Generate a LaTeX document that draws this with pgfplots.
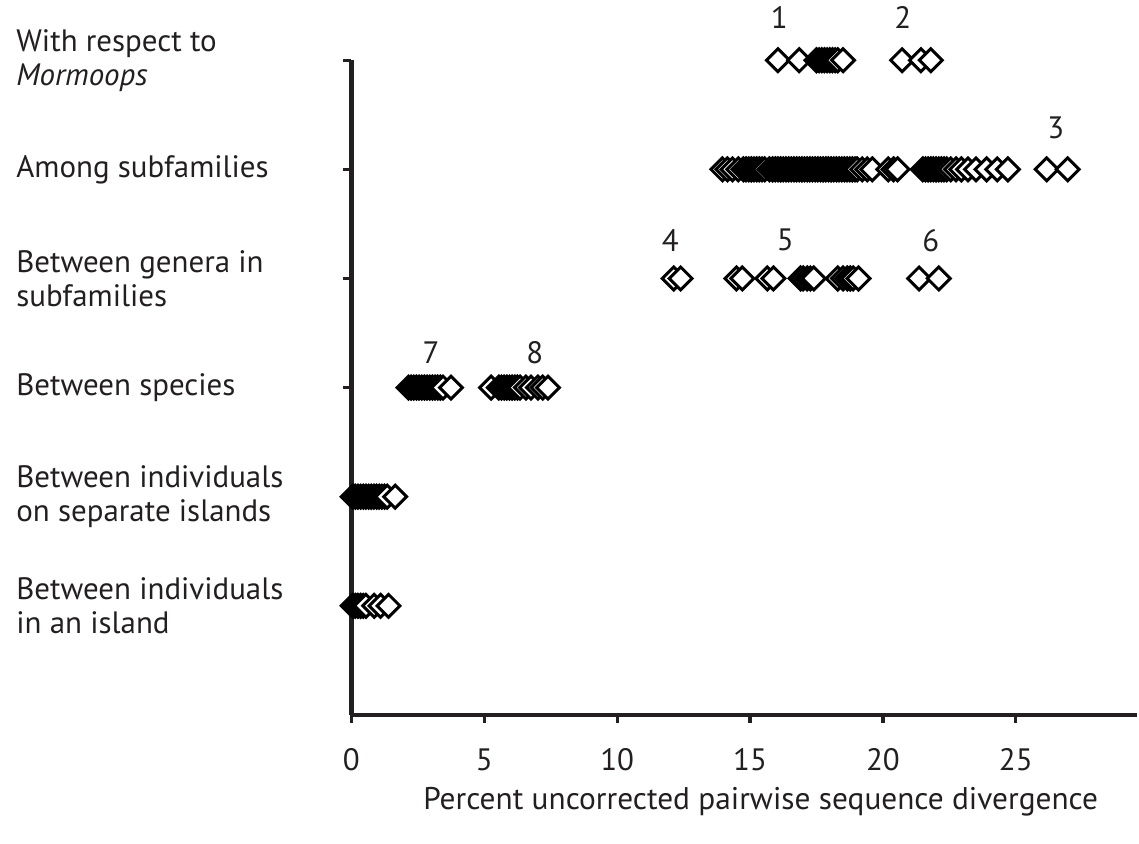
\documentclass[border=0pt]{standalone}
\usepackage{fontspec}
\setmainfont{PT Sans}
\usepackage{pgfplots}
\pgfplotsset{compat=1.18}
\definecolor{ink}{HTML}{231F20}
\pgfplotsset{dia/.style={only marks, mark=square*, mark size=4.05pt,
    mark options={rotate=45, fill=white, draw=black, line width=1.5pt, line join=miter}}}
\begin{document}
\begin{tikzpicture}
\path (-176pt,-64.5pt) rectangle (393.5pt,358pt);
\begin{axis}[
  at={(0pt,0pt)}, anchor=south west,
  scale only axis, width=393.5pt, height=328pt,
  xmin=0, xmax=29.55, ymin=0, ymax=6,
  axis x line=bottom, axis y line=left,
  axis line style={line width=2.2pt, -, ink},
  xtick={0,5,10,15,20,25},
  ytick={1,2,3,4,5,6},
  yticklabels={{Between individuals\\in an island},{Between individuals\\on separate islands},{Between species},{Between genera in\\subfamilies},{Among subfamilies},{With respect to\\\textit{Mormoops}}},
  tick align=outside, major tick length=4pt,
  every tick/.style={ink, line width=1.6pt},
  /pgf/number format/assume math mode=true,
  tick label style={font=\fontsize{15.5}{17}\selectfont, text=ink},
  yticklabel style={align=left, anchor=west, inner sep=0pt, xshift=-164pt},
  xticklabel style={anchor=center, inner sep=0pt, yshift=-18.5pt},
  xlabel={Percent uncorrected pairwise sequence divergence},
  xlabel style={font=\fontsize{15.7}{17}\selectfont, text=ink, at={(axis description cs:0.5,0)}, anchor=center, xshift=8.3pt, yshift=-43.5pt},
  clip=false,
]
% With respect to Mormoops
\addplot[dia] coordinates {(16.05,6) (16.85,6) (17.5,6) (17.6,6) (17.7,6) (17.8,6) (17.9,6) (18.0,6) (18.1,6) (18.2,6) (18.3,6) (18.5,6) (20.72,6) (21.43,6) (21.8,6)};
% Among subfamilies
\addplot[dia] coordinates {(13.96,5) (14.15,5) (14.34,5) (14.56,5)
 (14.75,5) (14.85,5) (14.95,5) (15.05,5) (15.15,5) (15.25,5) (15.35,5) (15.45,5) (15.55,5)
 (15.73,5)
 (15.85,5) (15.95,5) (16.05,5) (16.15,5) (16.25,5) (16.35,5) (16.45,5) (16.55,5) (16.65,5) (16.75,5)
 (16.85,5) (16.95,5) (17.05,5) (17.15,5) (17.25,5) (17.35,5) (17.45,5) (17.55,5) (17.65,5) (17.75,5)
 (17.85,5) (17.95,5) (18.05,5) (18.15,5) (18.25,5) (18.35,5) (18.45,5) (18.55,5) (18.65,5) (18.75,5)
 (18.85,5) (18.95,5)
 (19.03,5) (19.22,5) (19.41,5) (19.6,5) (20.2,5) (20.4,5) (20.55,5)
 (21.5,5) (21.6,5) (21.7,5) (21.8,5) (21.9,5) (22.0,5) (22.1,5) (22.2,5) (22.3,5) (22.4,5)
 (22.55,5) (22.75,5) (22.95,5) (23.2,5) (23.5,5) (23.9,5) (24.3,5) (24.7,5)
 (26.16,5) (26.95,5)};
% Between genera in subfamilies
\addplot[dia] coordinates {(12.13,4) (12.39,4) (14.49,4) (14.71,4) (15.65,4) (15.88,4)
 (16.9,4) (17.0,4) (17.15,4) (17.27,4) (17.4,4)
 (18.3,4) (18.5,4) (18.66,4) (18.77,4) (18.88,4) (19.08,4)
 (21.36,4) (22.1,4)};
% Between species
\addplot[dia] coordinates {(2.15,3) (2.25,3) (2.35,3) (2.45,3) (2.55,3) (2.65,3) (2.75,3) (2.85,3) (2.95,3) (3.05,3) (3.15,3) (3.25,3) (3.35,3) (3.45,3) (3.75,3)
 (5.26,3) (5.55,3) (5.65,3) (5.75,3) (5.85,3) (5.95,3) (6.05,3) (6.15,3) (6.25,3) (6.35,3)
 (6.57,3) (6.76,3) (7.02,3) (7.2,3) (7.4,3)};
% Between individuals on separate islands
\addplot[dia] coordinates {(0.05,2) (0.15,2) (0.25,2) (0.35,2) (0.45,2) (0.55,2) (0.65,2) (0.75,2) (0.85,2) (0.95,2) (1.05,2) (1.15,2) (1.25,2) (1.35,2) (1.65,2)};
% Between individuals in an island
\addplot[dia] coordinates {(0.05,1) (0.15,1) (0.25,1) (0.35,1) (0.45,1) (0.55,1) (0.86,1) (1.1,1) (1.4,1)};
% group numbers
\begin{scope}[every node/.style={font=\fontsize{15.5}{17}\selectfont, text=ink}]
\node at (axis cs:16.1,6.39) {1};
\node at (axis cs:20.75,6.39) {2};
\node at (axis cs:26.5,5.38) {3};
\node at (axis cs:12.0,4.35) {4};
\node at (axis cs:16.33,4.35) {5};
\node at (axis cs:21.8,4.35) {6};
\node at (axis cs:3.0,3.32) {7};
\node at (axis cs:6.9,3.32) {8};
\end{scope}
\end{axis}
\end{tikzpicture}
\end{document}
